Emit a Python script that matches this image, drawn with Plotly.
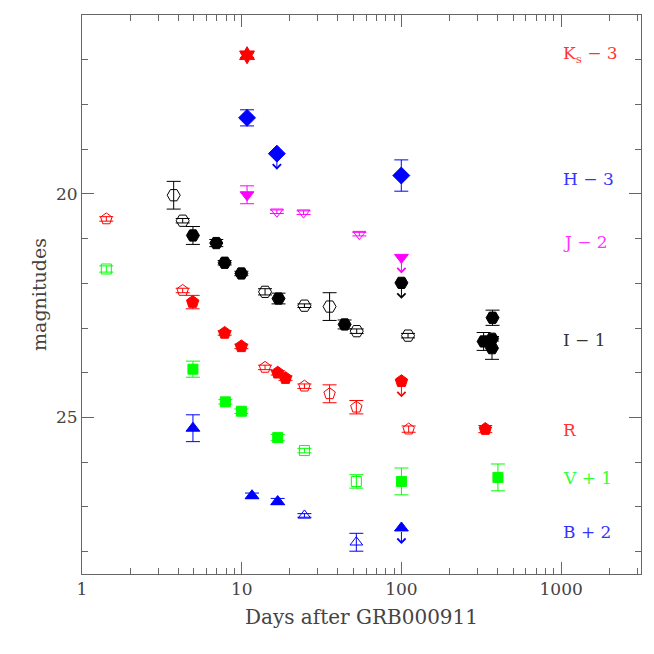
import math

import plotly.graph_objects as go

# GRB000911 light curves; magnitudes offset per band as in the labels
ks_days = [10.8]
ks_mag = [16.9]
ks_err = [0.05]

h_days = [10.8, 99.8]
h_mag = [18.30, 19.59]
h_err = [0.18, 0.35]
h_lim_days = [16.6]
h_lim_mag = [19.10]

j_days = [10.8]
j_mag = [20.02]
j_err = [0.2]
j_open_days = [16.6, 24.4, 54.5]
j_open_mag = [20.40, 20.42, 20.90]
j_open_err = [0.04, 0.04, 0.04]
j_lim_days = [100]
j_lim_mag = [21.42]

i_days = [4.95, 6.93, 7.82, 9.95, 17.0, 44.1, 372, 327, 369, 369]
i_mag = [20.93, 21.10, 21.54, 21.78, 22.34, 22.92, 22.77, 23.30, 23.24, 23.45]
i_err = [0.2, 0.08, 0.05, 0.05, 0.12, 0.1, 0.17, 0.2, 0.05, 0.25]
i_open_days = [3.75, 4.27, 14.0, 24.7, 35.5, 52.5, 110]
i_open_mag = [20.03, 20.60, 22.19, 22.50, 22.52, 23.07, 23.17]
i_open_err = [0.31, 0.05, 0.07, 0.04, 0.31, 0.05, 0.05]
i_lim_days = [100]
i_lim_mag = [21.99]

r_days = [4.93, 7.82, 9.95, 16.8, 18.8, 335]
r_mag = [22.42, 23.11, 23.41, 24.0, 24.12, 25.26]
r_err = [0.15, 0.05, 0.05, 0.05, 0.05, 0.08]
r_open_days = [1.42, 4.27, 14.0, 24.7, 35.5, 52.2, 111]
r_open_mag = [20.56, 22.16, 23.88, 24.30, 24.47, 24.77, 25.26]
r_open_err = [0.05, 0.05, 0.05, 0.05, 0.2, 0.15, 0.07]
r_lim_days = [100]
r_lim_mag = [24.19]

v_days = [4.95, 7.9, 9.95, 16.8, 100, 402]
v_mag = [23.92, 24.65, 24.86, 25.45, 26.43, 26.34]
v_err = [0.18, 0.05, 0.05, 0.07, 0.3, 0.3]
v_open_days = [1.42, 24.7, 52.2]
v_open_mag = [21.68, 25.74, 26.43]
v_open_err = [0.07, 0.05, 0.15]

b_days = [4.95, 11.6, 16.8]
b_mag = [25.24, 26.75, 26.88]
b_err = [0.3, 0.06, 0.07]
b_open_days = [24.7, 52.2]
b_open_mag = [27.19, 27.79]
b_open_err = [0.04, 0.2]
b_lim_days = [100]
b_lim_mag = [27.47]

band_labels = ["K<sub>s</sub> \u2212 3", "H \u2212 3", "J \u2212 2", "I \u2212 1", "R", "V + 1", "B + 2"]
label_mag = [16.88, 19.67, 21.08, 23.26, 25.27, 26.36, 27.57]

RED, BLUE, MAG, GREEN, BLACK = "#ff0000", "#0000ff", "#ff00ff", "#00ff00", "#000000"
label_colors = ["#ff3333", "#3333ff", "#ff33ff", "#333333", "#ff3333", "#33ff33", "#3333ff"]
FONT = "DejaVu Serif"
AXIS = "#666666"
TEXT = "#444444"

fig = go.Figure()


def add_points(days, mag, err, symbol, color, size, open_=False):
    fig.add_trace(go.Scatter(
        x=days, y=mag, mode="markers",
        marker=dict(symbol=symbol + ("-open" if open_ else ""), size=size, color=color,
                    line=dict(color=color, width=1)),
        error_y=dict(type="data", array=err, color=color, thickness=1, width=7),
        showlegend=False,
    ))


def add_limits(days, mag, symbol, color, size):
    # upper limits: marker with a downward arrow, no error bar
    fig.add_trace(go.Scatter(
        x=days, y=mag, mode="markers",
        marker=dict(symbol=symbol, size=size, color=color, line=dict(color=color, width=1)),
        showlegend=False,
    ))
    for d, m in zip(days, mag):
        fig.add_annotation(
            x=math.log10(d), y=m, ax=0, ay=-13, yshift=-16, text=" ",
            font=dict(size=1, color=color), borderpad=0,
            showarrow=True, arrowhead=4, arrowsize=1.6, arrowwidth=1, arrowcolor=color,
        )


add_points(ks_days, ks_mag, ks_err, "hexagram", RED, 13)

add_points(h_days, h_mag, h_err, "diamond", BLUE, 13)
add_limits(h_lim_days, h_lim_mag, "diamond", BLUE, 13)

add_points(j_days, j_mag, j_err, "triangle-down", MAG, 12)
add_points(j_open_days, j_open_mag, j_open_err, "triangle-down", MAG, 11, open_=True)
add_limits(j_lim_days, j_lim_mag, "triangle-down", MAG, 12)

add_points(i_days, i_mag, i_err, "hexagon2", BLACK, 13)
add_points(i_open_days, i_open_mag, i_open_err, "hexagon2", BLACK, 13, open_=True)
add_limits(i_lim_days, i_lim_mag, "hexagon2", BLACK, 13)

add_points(r_days, r_mag, r_err, "pentagon", RED, 13)
add_points(r_open_days, r_open_mag, r_open_err, "pentagon", RED, 12, open_=True)
add_limits(r_lim_days, r_lim_mag, "pentagon", RED, 13)

add_points(v_days, v_mag, v_err, "square", GREEN, 10)
add_points(v_open_days, v_open_mag, v_open_err, "square", GREEN, 10, open_=True)

add_points(b_days, b_mag, b_err, "triangle-up", BLUE, 12)
add_points(b_open_days, b_open_mag, b_open_err, "triangle-up", BLUE, 11, open_=True)
add_limits(b_lim_days, b_lim_mag, "triangle-up", BLUE, 12)

for text, m, c in zip(band_labels, label_mag, label_colors):
    fig.add_annotation(x=3, y=m, text=text, showarrow=False, xanchor="left", yanchor="middle",
                       font=dict(family=FONT, size=17, color=c))

x_minor = [k * 10 ** p for p in range(4) for k in range(2, 10) if k * 10 ** p < 3200]

fig.update_xaxes(
    type="log", range=[0, 3.5], automargin=False,
    tickvals=[1, 10, 100, 1000], ticktext=["1", "10", "100", "1000"],
    ticks="inside", ticklen=12, tickcolor=AXIS, tickwidth=1,
    minor=dict(tickvals=x_minor, ticks="inside", ticklen=6, tickcolor=AXIS, tickwidth=1),
    showline=True, linecolor=AXIS, linewidth=1, mirror="allticks",
    showgrid=False, zeroline=False,
    tickfont=dict(family=FONT, size=17, color=TEXT),
    title=dict(text="Days after GRB000911", font=dict(family=FONT, size=20, color=TEXT), standoff=11),
)
fig.update_yaxes(
    range=[28.5, 16], automargin=False,
    tickvals=[20, 25], ticktext=["20", "25"],
    ticks="inside", ticklen=12, tickcolor=AXIS, tickwidth=1,
    minor=dict(dtick=1, tick0=16, ticks="inside", ticklen=6, tickcolor=AXIS, tickwidth=1),
    showline=True, linecolor=AXIS, linewidth=1, mirror="allticks",
    showgrid=False, zeroline=False,
    tickfont=dict(family=FONT, size=17, color=TEXT),
    title=dict(text="magnitudes", font=dict(family=FONT, size=19, color=TEXT), standoff=4),
)
# the page body adds an 8px offset, so the figure is a bit smaller than the window
fig.update_layout(
    width=646, height=646,
    margin=dict(l=74, r=13, t=7, b=80),
    plot_bgcolor="white", paper_bgcolor="white",
)

fig.write_html("out.html")
